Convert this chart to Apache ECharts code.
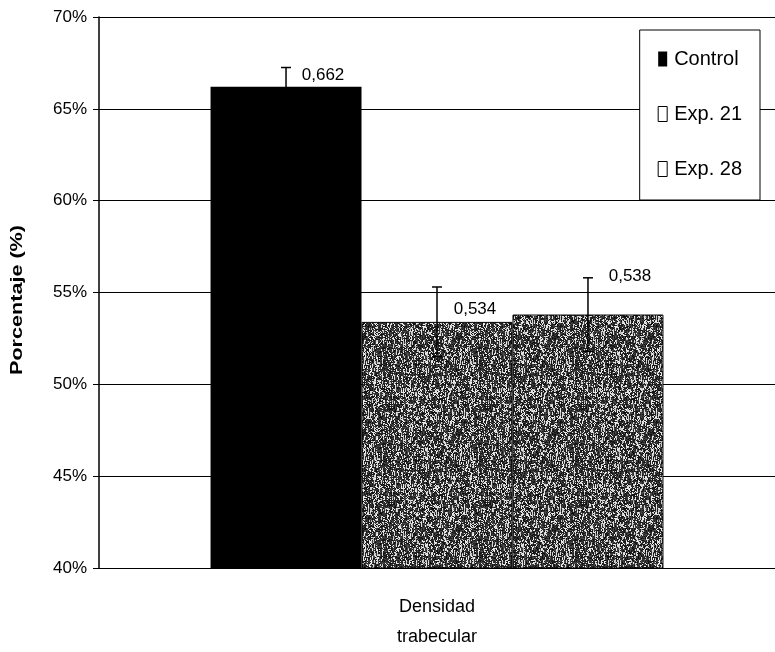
<!DOCTYPE html>
<html>
<head>
<meta charset="utf-8">
<script src="https://cdn.jsdelivr.net/npm/echarts@6/dist/echarts.min.js"></script>
<style>html,body{margin:0;padding:0;background:#fff}#c{width:775px;height:652px}</style>
</head>
<body>
<div id="c"></div>
<script>
const categories = ['Densidad\ntrabecular'];
const seriesNames = ['Control', 'Exp. 21', 'Exp. 28'];
const values = [66.2, 53.4, 53.8];
const errors = [1.05, 1.9, 2.0];
const yTicks = { min: 40, max: 70, interval: 5 };
const yTitle = 'Porcentaje (%)';

const FONT = "'Liberation Sans', Arial, sans-serif";

// deterministic speckle texture for the experimental bars
function hash(a, b) {
  const h = Math.sin(a * 12.9898 + b * 78.233) * 43758.5453;
  return h - Math.floor(h);
}
function makeTexture() {
  const N = 96;
  const cv = document.createElement('canvas');
  cv.width = N; cv.height = N;
  const ctx = cv.getContext('2d');
  const img = ctx.createImageData(N, N);
  for (let y = 0; y < N; y++) {
    for (let x = 0; x < N; x++) {
      const f = hash(x, y);
      const g = hash(x + 101, Math.floor(y / 4) + 57);
      const s = 0.45 * f + 0.55 * g;
      const v = s > 0.62 ? Math.round(150 + 95 * f) : Math.round(10 + 75 * f);
      const i = (y * N + x) * 4;
      img.data[i] = v; img.data[i + 1] = v; img.data[i + 2] = v; img.data[i + 3] = 255;
    }
  }
  ctx.putImageData(img, 0, 0);
  return cv;
}
const tex = makeTexture();

const fills = ['#000000', { image: tex, repeat: 'repeat' }, { image: tex, repeat: 'repeat' }];
const labelOffsets = [[37, 2], [38, 1], [42, -25]];
const GAP = 0.33;

const chart = echarts.init(document.getElementById('c'), null, { renderer: 'canvas' });

const barSeries = seriesNames.map((name, i) => ({
  name: name,
  type: 'bar',
  barGap: '0%',
  barCategoryGap: (GAP * 100) + '%',
  itemStyle: { color: fills[i], borderColor: '#000', borderWidth: i === 0 ? 0 : 1 },
  data: [{
    value: values[i],
    label: {
      show: true,
      position: 'top',
      offset: labelOffsets[i],
      formatter: (values[i] / 100).toFixed(3).replace('.', ','),
      color: '#000',
      fontFamily: FONT,
      fontSize: 17
    }
  }],
  z: 2
}));

const errSeries = {
  type: 'custom',
  name: 'err',
  z: 5,
  silent: true,
  data: values.map((v, i) => [0, v, errors[i], i]),
  renderItem: function (params, api) {
    const i = api.value(3);
    const v = api.value(1), e = api.value(2);
    const band = api.size([1, 0])[0];
    const barW = band * (1 - GAP) / 3;
    const cx = api.coord([0, v])[0] + (i - 1) * barW;
    const yTop = api.coord([0, v + e])[1];
    const yBot = api.coord([0, v - e])[1];
    const cap = 5;
    const st = { stroke: '#000', lineWidth: 1.5 };
    return {
      type: 'group',
      children: [
        { type: 'line', shape: { x1: cx, y1: yTop, x2: cx, y2: yBot }, style: st },
        { type: 'line', shape: { x1: cx - cap, y1: yTop, x2: cx + cap, y2: yTop }, style: st },
        { type: 'line', shape: { x1: cx - cap, y1: yBot, x2: cx + cap, y2: yBot }, style: st }
      ]
    };
  }
};

chart.setOption({
  animation: false,
  backgroundColor: '#fff',
  grid: { left: 99, right: 0, top: 17, bottom: 82, containLabel: false },
  graphic: [{
    type: 'text',
    x: 18,
    y: 300,
    rotation: Math.PI / 2,
    scaleX: 1.35,
    style: {
      text: yTitle,
      fontFamily: FONT,
      fontWeight: 'bold',
      fontSize: 16,
      fill: '#000',
      align: 'center',
      verticalAlign: 'middle'
    }
  }],
  legend: {
    orient: 'vertical',
    right: 15,
    top: 30,
    padding: [19, 18, 21, 18],
    itemGap: 35,
    itemWidth: 9,
    itemHeight: 15,
    backgroundColor: '#fff',
    borderColor: '#000',
    borderWidth: 1,
    textStyle: { fontFamily: FONT, fontSize: 20, color: '#000', padding: [0, 0, 0, 2] },
    data: [
      { name: 'Control', icon: 'rect', itemStyle: { color: '#000', borderWidth: 0 } },
      { name: 'Exp. 21', icon: 'rect', itemStyle: { color: '#fff', borderColor: '#000', borderWidth: 1 } },
      { name: 'Exp. 28', icon: 'rect', itemStyle: { color: '#fff', borderColor: '#000', borderWidth: 1 } }
    ]
  },
  xAxis: {
    type: 'category',
    data: categories,
    axisLine: { show: true, lineStyle: { color: '#000', width: 1 } },
    axisTick: { show: false },
    axisLabel: { color: '#000', fontFamily: FONT, fontSize: 18, lineHeight: 30, margin: 24 }
  },
  yAxis: {
    type: 'value',
    min: yTicks.min,
    max: yTicks.max,
    interval: yTicks.interval,
    axisLine: { show: true, lineStyle: { color: '#000', width: 1.5 } },
    axisTick: { show: true, length: 6, lineStyle: { color: '#000' } },
    axisLabel: { formatter: '{value}%', color: '#000', fontFamily: FONT, fontSize: 17, margin: 12 },
    splitLine: { show: true, lineStyle: { color: '#000', width: 1 } }
  },
  series: barSeries.concat([errSeries])
});
</script>
</body>
</html>
